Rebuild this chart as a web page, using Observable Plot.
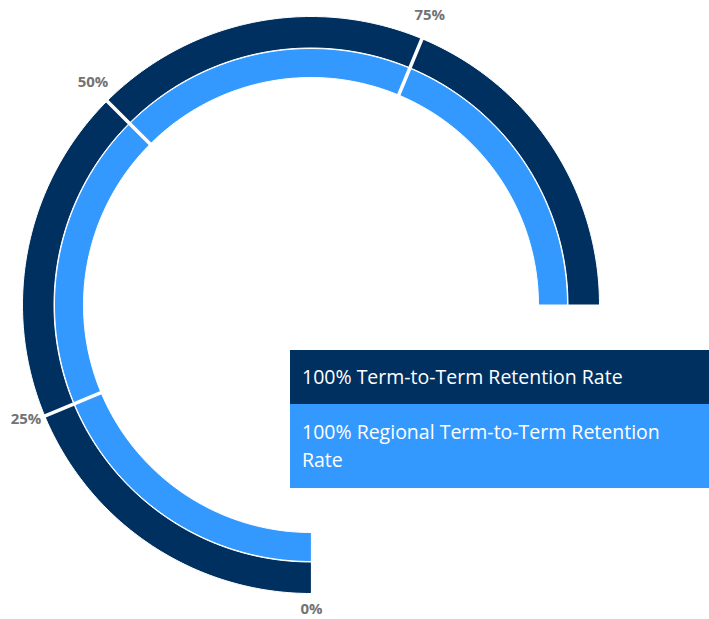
<!DOCTYPE html>
<html>
<head>
<meta charset="utf-8">
<script src="https://cdn.jsdelivr.net/npm/d3@7"></script>
<script src="https://cdn.jsdelivr.net/npm/@observablehq/plot@0.6"></script>
<style>
  html, body { margin: 0; padding: 0; background: #fff; }
  #wrap { position: relative; width: 709px; height: 619px; font-family: "Open Sans", sans-serif; }
  #legend { position: absolute; left: 290px; top: 350px; width: 419px; }
  #legend div { box-sizing: border-box; padding: 13px 12px 13px 12px; color: #fff; font-size: 19.5px; line-height: 28px; }
</style>
</head>
<body>
<div id="wrap"><div id="chart"></div><div id="legend"></div></div>
<script>
// ---- data ----
const series = ["Term-to-Term Retention Rate", "Regional Term-to-Term Retention Rate"];
const values = [100, 100];
const colors = ["#00305f", "#3399ff"];
const tickValues = [0, 25, 50, 75];
const tickLabels = ["0%", "25%", "50%", "75%"];

// ---- geometry (pixels as data units) ----
const bands = [[257, 288.5], [227.5, 256.5]]; // outer ring, inner ring
const labelR = 309;
const angle = d3.scaleLinear().domain([0, 100]).range([Math.PI, Math.PI * 2.5]);
const px = (r, v) => r * Math.sin(angle(v));
const py = (r, v) => r * Math.cos(angle(v));

const arcPts = [];
series.forEach((s, i) => {
  const N = 300;
  for (let k = 0; k <= N; k++) {
    const v = values[i] * k / N;
    const [r0, r1] = bands[i];
    arcPts.push({s, i, x1: px(r0, v), y1: py(r0, v), x2: px(r1, v), y2: py(r1, v)});
  }
});

const ticks = tickValues.map((v, j) => ({v, label: tickLabels[j]}));
const dividers = ticks.filter(t => t.v > 0);

const chart = Plot.plot({
  width: 709,
  height: 619,
  margin: 0,
  x: {domain: [-311, 398], axis: null},
  y: {domain: [-314, 305], axis: null},
  marks: [
    Plot.area(arcPts, {
      x1: "x1", y1: "y1", x2: "x2", y2: "y2", z: "s",
      fill: d => colors[d.i], stroke: "#fff", strokeWidth: 1
    }),
    Plot.link(dividers, {
      x1: d => px(bands[1][0] - 1, d.v), y1: d => py(bands[1][0] - 1, d.v),
      x2: d => px(bands[0][1] + 1, d.v), y2: d => py(bands[0][1] + 1, d.v),
      stroke: "#fff", strokeWidth: 3.5
    }),
    Plot.text(ticks, {
      x: d => px(labelR, d.v), y: d => py(labelR, d.v), text: "label",
      dy: -5, fontSize: 15, fontWeight: "bold", fill: "#737373",
      fontFamily: "Open Sans"
    })
  ]
});
document.getElementById("chart").appendChild(chart);

const legend = document.getElementById("legend");
series.forEach((s, i) => {
  const row = document.createElement("div");
  row.style.background = colors[i];
  if (i === 1) row.style.padding = "14px 12px 14px 12px";
  row.textContent = `${values[i]}% ${s}`;
  legend.appendChild(row);
});
</script>
</body>
</html>
